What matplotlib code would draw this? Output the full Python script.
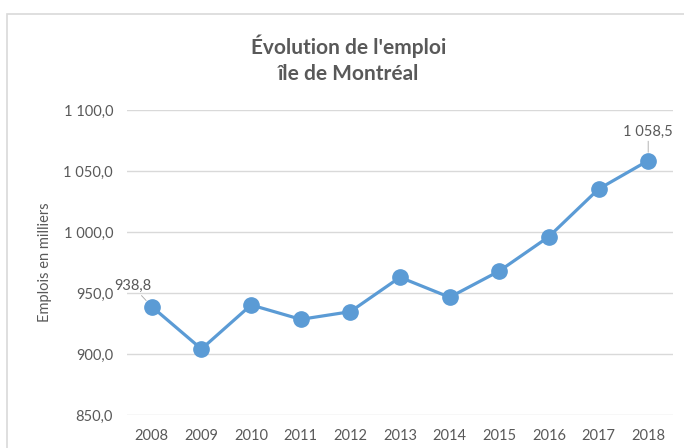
import matplotlib
matplotlib.use("Agg")
import matplotlib.pyplot as plt
from matplotlib.patches import Rectangle
from matplotlib.ticker import FuncFormatter

# data
years = ['2008', '2009', '2010', '2011', '2012', '2013', '2014', '2015', '2016', '2017', '2018']
emplois = [938.8, 904.1, 940.2, 928.4, 934.7, 962.9, 946.5, 968.0, 996.2, 1035.2, 1058.5]
yticks = [850, 900, 950, 1000, 1050, 1100]

plt.rcParams['font.family'] = ['Lato', 'DejaVu Sans']
txt_col = '#595959'
line_col = '#5B9BD5'


def fr_fmt(v, pos=None):
    s = f"{v:,.1f}"
    return s.replace(',', ' ').replace('.', ',')


fig = plt.figure(figsize=(6.84, 4.48), dpi=100)
# chart area border
fig.patches.append(Rectangle((7 / 684, -0.2), 1.2, 1.2 - 14 / 448,
                             transform=fig.transFigure, fill=False,
                             edgecolor='#D9D9D9', linewidth=1.2))

ax = fig.add_axes([127 / 684, 1 - 415 / 448, 546 / 684, 305 / 448])
x = range(len(years))
ax.plot(x, emplois, color=line_col, linewidth=2.3, marker='o', markersize=11,
        markerfacecolor=line_col, markeredgecolor=line_col, zorder=3)

ax.set_xlim(-0.5, len(years) - 0.5)
ax.set_ylim(yticks[0], yticks[-1])
ax.set_yticks(yticks)
ax.yaxis.set_major_formatter(FuncFormatter(fr_fmt))
ax.set_xticks(list(x))
ax.set_xticklabels(years)
ax.tick_params(length=0, labelsize=10.5, colors=txt_col)
ax.tick_params(axis='y', pad=10)
ax.tick_params(axis='x', pad=10)
for s in ax.spines.values():
    s.set_visible(False)
ax.grid(axis='y', color='#D9D9D9', linewidth=1)
ax.set_axisbelow(True)
ax.set_ylabel('Emplois en milliers', color=txt_col, fontsize=10.5, labelpad=8)

# data labels with leader lines
ax.annotate(fr_fmt(emplois[0]), xy=(0, emplois[0]), xytext=(-14, 10),
            textcoords='offset points', ha='center', va='bottom',
            fontsize=10.5, color=txt_col,
            arrowprops=dict(arrowstyle='-', color='#A6A6A6', lw=0.6,
                            shrinkA=0, shrinkB=6))
ax.annotate(fr_fmt(emplois[-1]), xy=(len(years) - 1, emplois[-1]), xytext=(0, 16),
            textcoords='offset points', ha='center', va='bottom',
            fontsize=10.5, color=txt_col,
            arrowprops=dict(arrowstyle='-', color='#A6A6A6', lw=0.6,
                            shrinkA=0, shrinkB=6))

fig.text(0.51, 1 - 59 / 448, "Évolution de l'emploi\nîle de Montréal", ha='center',
         va='center', fontsize=15, fontweight='bold', color=txt_col, linespacing=1.35)

fig.savefig('out.png', dpi=100)
